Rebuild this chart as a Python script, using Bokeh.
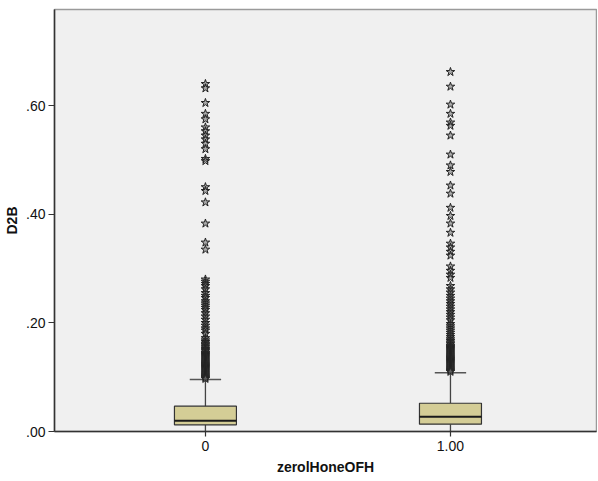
from bokeh.plotting import figure
from bokeh.models import FixedTicker, ColumnDataSource
from bokeh.embed import file_html
from bokeh.resources import INLINE

# ---- data ----
groups = [0, 1]
group_labels = ["0", "1.00"]
q1 = [0.0123, 0.0134]
median = [0.0197, 0.0270]
q3 = [0.0466, 0.0520]
whisk_lo = [0.0, 0.0]
whisk_hi = [0.0957, 0.1080]

outliers_0 = [0.640, 0.632, 0.605, 0.585, 0.575, 0.560, 0.553, 0.545, 0.538, 0.530,
              0.520, 0.502, 0.498, 0.450, 0.443, 0.422, 0.383, 0.348, 0.335,
              0.280, 0.276, 0.272, 0.268, 0.262, 0.255, 0.250, 0.246, 0.240, 0.236,
              0.232, 0.228, 0.224, 0.218, 0.212, 0.206, 0.200, 0.195, 0.190, 0.186,
              0.180, 0.172, 0.168, 0.165, 0.162, 0.160, 0.157, 0.155, 0.152, 0.150,
              0.148, 0.145, 0.143, 0.141, 0.139, 0.137, 0.135, 0.133, 0.131, 0.129,
              0.127, 0.125, 0.123, 0.121, 0.119, 0.117, 0.115, 0.113, 0.111, 0.109,
              0.107, 0.105, 0.103, 0.101, 0.099, 0.097]
outliers_1 = [0.662, 0.635, 0.602, 0.585, 0.569, 0.563, 0.545, 0.510, 0.490, 0.478,
              0.453, 0.438, 0.412, 0.397, 0.383, 0.366, 0.346, 0.339, 0.331, 0.324,
              0.304, 0.296, 0.289, 0.283, 0.268, 0.262, 0.256, 0.250, 0.245, 0.240,
              0.235, 0.230, 0.225, 0.220, 0.215, 0.210, 0.205, 0.198, 0.194, 0.190,
              0.186, 0.182, 0.178, 0.174, 0.170, 0.167, 0.164, 0.161, 0.158, 0.156,
              0.154, 0.152, 0.150, 0.148, 0.146, 0.144, 0.142, 0.140, 0.138, 0.136,
              0.134, 0.132, 0.130, 0.128, 0.126, 0.124, 0.122, 0.120, 0.118, 0.116,
              0.114, 0.112, 0.110]

y_ticks = [0.0, 0.2, 0.4, 0.6]
y_tick_labels = [".00", ".20", ".40", ".60"]

FONT = "Liberation Sans"

p = figure(width=597, height=480, output_backend="svg", toolbar_location=None,
           x_range=(-0.616, 1.596), y_range=(0.0, 0.777),
           min_border_left=54, min_border_right=1, min_border_top=9, min_border_bottom=49)

p.background_fill_color = "#F0F0F0"
p.border_fill_color = "white"
p.outline_line_color = "#9a9a9a"
p.outline_line_width = 1.5
p.grid.visible = False

# whiskers
p.segment(x0=groups, y0=q3, x1=groups, y1=whisk_hi, line_color="#444444", line_width=1.3)
p.segment(x0=groups, y0=whisk_lo, x1=groups, y1=q1, line_color="#444444", line_width=1.3)
# caps
cap_w = 0.064
p.segment(x0=[g - cap_w for g in groups], y0=whisk_hi, x1=[g + cap_w for g in groups], y1=whisk_hi,
          line_color="#555555", line_width=1.5)
# boxes
p.vbar(x=groups, width=0.253, bottom=q1, top=q3, fill_color="#D4CD96",
       line_color="#333333", line_width=1.2)
# median
p.segment(x0=[g - 0.1265 for g in groups], y0=median, x1=[g + 0.1265 for g in groups], y1=median,
          line_color="#1a1a1a", line_width=2)

# outliers
src = ColumnDataSource(dict(x=[0] * len(outliers_0) + [1] * len(outliers_1),
                            y=outliers_0 + outliers_1))
p.scatter("x", "y", source=src, marker="star", size=9, line_color="#222222",
          line_width=1, fill_color="#666666", fill_alpha=0.5)

# axes
p.xaxis.ticker = FixedTicker(ticks=groups)
p.xaxis.major_label_overrides = {g: lab for g, lab in zip(groups, group_labels)}
p.yaxis.ticker = FixedTicker(ticks=y_ticks)
p.yaxis.major_label_overrides = {t: lab for t, lab in zip(y_ticks, y_tick_labels)}
p.xaxis.axis_label = "zerolHoneOFH"
p.yaxis.axis_label = "D2B"
for ax in (p.xaxis, p.yaxis):
    ax.axis_line_color = "#333333"
    ax.axis_line_width = 1.5
    ax.major_tick_line_color = "#333333"
    ax.major_tick_line_width = 1.2
    ax.major_tick_out = 6
    ax.major_tick_in = 0
    ax.minor_tick_line_color = None
    ax.major_label_text_font = FONT
    ax.major_label_text_font_size = "14px"
    ax.major_label_text_color = "#111111"
    ax.axis_label_text_font = FONT
    ax.axis_label_text_font_size = "14px"
    ax.axis_label_text_font_style = "bold"
    ax.axis_label_text_color = "#111111"
p.yaxis.major_label_standoff = 3
p.yaxis.axis_label_standoff = 3
p.xaxis.major_tick_out = 5
p.xaxis.major_label_standoff = 4
p.xaxis.axis_label_standoff = 5

open("out.html", "w").write(file_html(p, INLINE))
